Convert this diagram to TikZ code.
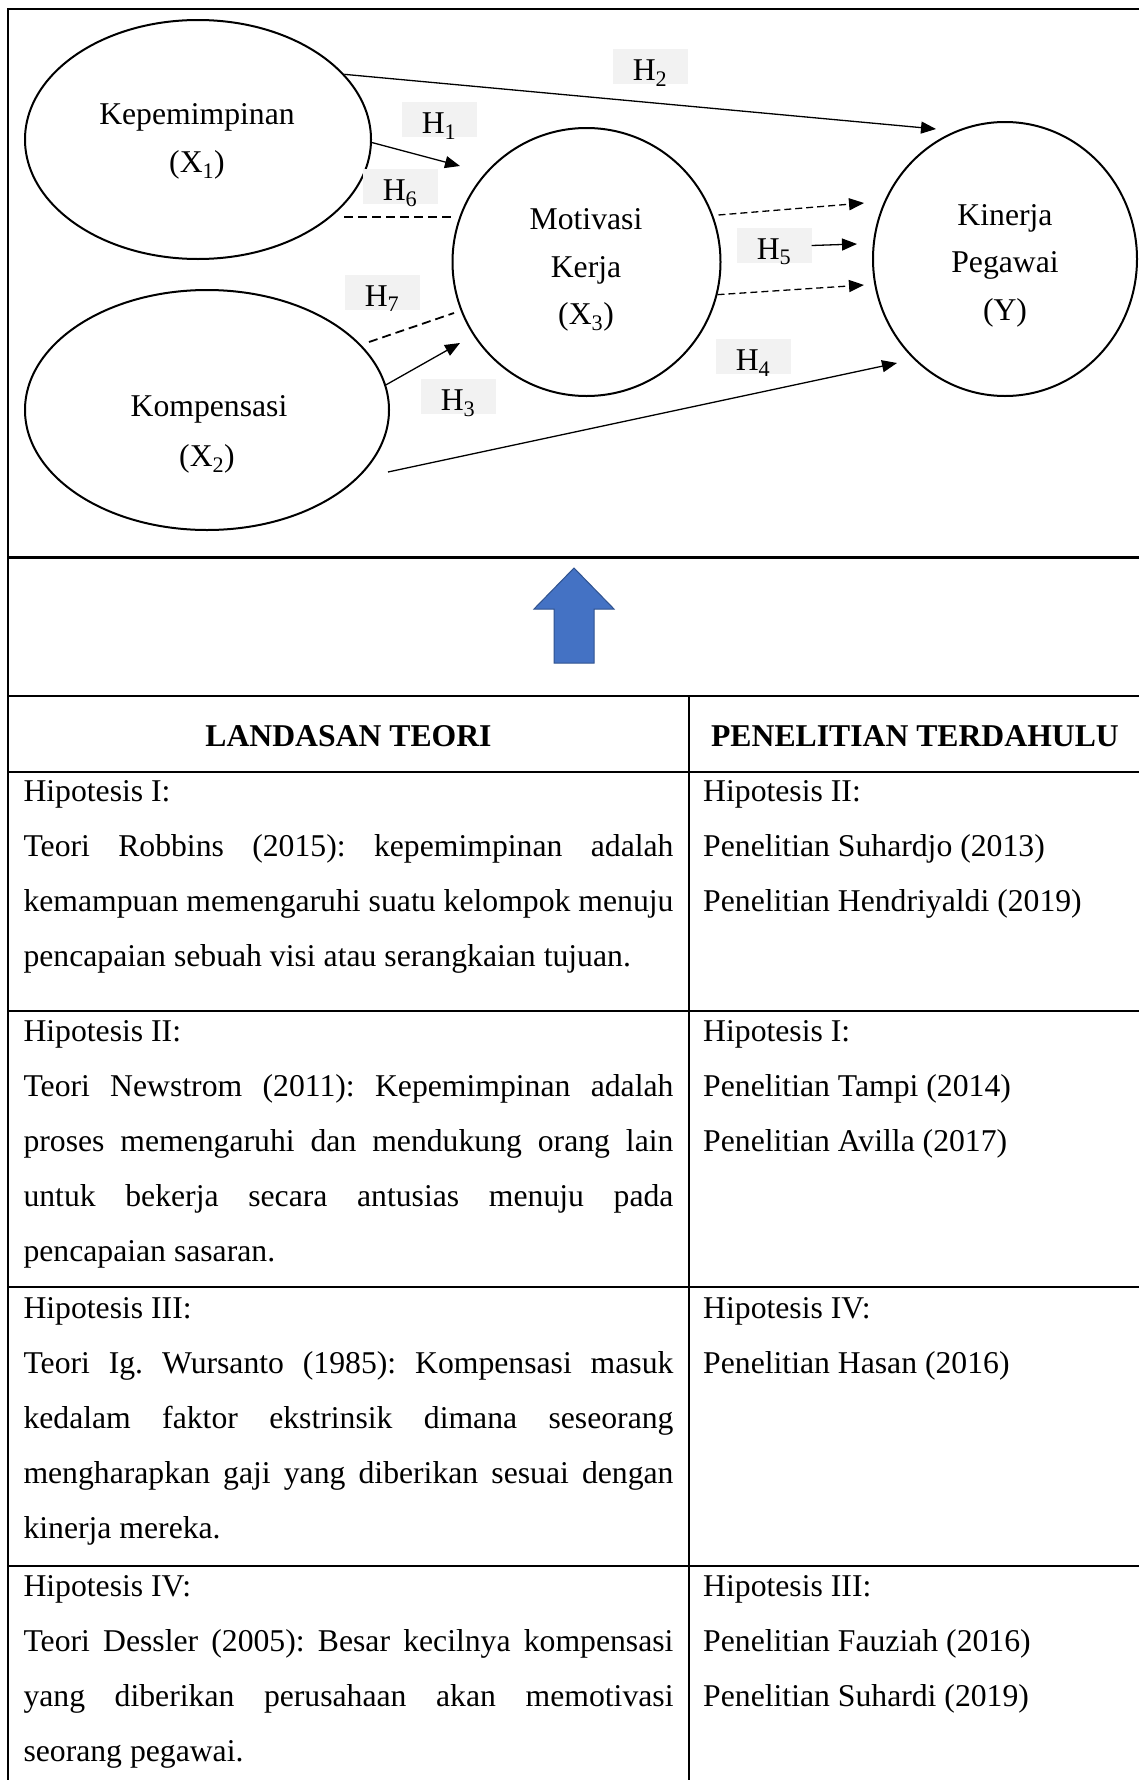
\documentclass[tikz,border=0pt]{standalone}
\usepackage{fontspec}
\setmainfont{Liberation Serif}
\usetikzlibrary{shapes.geometric,arrows.meta}
\definecolor{arrowblue}{HTML}{4472C4}
\definecolor{arrowedge}{HTML}{2F528F}
\definecolor{labelgrey}{HTML}{F2F2F2}
\newcommand{\jl}[1]{\makebox[650pt][s]{#1}}
\begin{document}
\begin{tikzpicture}[x=1pt,y=-1pt,
  base/.style={font=\fontsize{31.7}{55}\selectfont\frenchspacing, inner sep=0pt},
  dtxt/.style={base, anchor=base},
  hlabel/.style={base, anchor=base, fill=labelgrey, minimum width=75pt, text height=31pt, text depth=4pt},
  var/.style={ellipse, draw, line width=2pt, inner sep=0pt},
  cellL/.style={base, anchor=base west, text width=650pt, align=justify},
  cellR/.style={base, anchor=base west, text width=430pt, align=justify},
  frameline/.style={line width=2.6pt},
  tline/.style={line width=2pt},
  arr/.style={line width=1.3pt, -{Triangle[length=15pt,width=12pt]}},
  dline/.style={line width=1.8pt, dash pattern=on 9pt off 5pt},
  darr/.style={line width=1.3pt, dash pattern=on 7pt off 4pt, -{Triangle[length=15pt,width=12pt]}}
]
\useasboundingbox (0,0) rectangle (1138,1780);
\fill[white] (0,0) rectangle (1138,1780);

% frame of the model
\draw[frameline] (1142,9) -- (8,9) -- (8,1785);
\draw[frameline] (8,557.5) -- (1142,557.5);

% table lines
\draw[tline] (8,696) -- (1142,696);
\draw[tline] (8,772.3) -- (1142,772.3);
\draw[tline] (8,1010.7) -- (1142,1010.7);
\draw[tline] (8,1286.7) -- (1142,1286.7);
\draw[tline] (8,1565.7) -- (1142,1565.7);
\draw[tline] (689,696) -- (689,1785);

% variables
\node[var, minimum width=346pt, minimum height=239pt] (x1) at (198,139.5) {};
\node[var, minimum width=364pt, minimum height=240pt] (x2) at (207,410) {};
\node[var, minimum width=268pt, minimum height=268pt] (x3) at (586.5,262) {};
\node[var, minimum width=264pt, minimum height=274pt] (y) at (1005,259) {};

\node[dtxt] (x1a) at (197,124) {Kepemimpinan};
\node[dtxt] (x1b) at (197,172) {(X\textsubscript{1})};
\node[dtxt] (x2a) at (209,416) {Kompensasi};
\node[dtxt] (x2b) at (207,466) {(X\textsubscript{2})};
\node[dtxt] (x3a) at (586,229) {Motivasi};
\node[dtxt] (x3b) at (586,277) {Kerja};
\node[dtxt] (x3c) at (586,324) {(X\textsubscript{3})};
\node[dtxt] (ya) at (1005,225) {Kinerja};
\node[dtxt] (yb) at (1005,272) {Pegawai};
\node[dtxt] (yc) at (1005,320) {(Y)};

% hypothesis labels
\node[hlabel] (lh1) at (439,133) {H\textsubscript{1}};
\node[hlabel] (lh2) at (650,80) {H\textsubscript{2}};
\node[hlabel] (lh3) at (458,410) {H\textsubscript{3}};
\node[hlabel] (lh4) at (753,370) {H\textsubscript{4}};
\node[hlabel] (lh5) at (774,259) {H\textsubscript{5}};
\node[hlabel] (lh6) at (400,200) {H\textsubscript{6}};
\node[hlabel] (lh7) at (382,306) {H\textsubscript{7}};

% free connector ends
\coordinate (h2e) at (936,129);
\coordinate (h1e) at (460,166);
\coordinate (h6s) at (344,217);
\coordinate (h6e) at (451,217);
\coordinate (h7s) at (369,342);
\coordinate (h7e) at (454,313);
\coordinate (h3e) at (460,343);
\coordinate (h4s) at (388,472);
\coordinate (h4e) at (897,363);
\coordinate (m1s) at (718.5,215);
\coordinate (m1e) at (864,203);
\coordinate (h5e) at (857,244);
\coordinate (m2e) at (864,285);

% connectors
\draw[arr] (x1.24.3) -- (h2e);
\draw[arr] (x1.-1) -- (h1e);
\draw[dline] (h6s) -- (h6e);
\draw[dline] (h7s) -- (h7e);
\draw[arr] (x2.8.5) -- (h3e);
\draw[arr] (h4s) -- (h4e);
\draw[darr] (m1s) -- (m1e);
\draw[arr] (lh5.east) -- (h5e);
\draw[darr] (x3.-14) -- (m2e);

% blue up arrow
\filldraw[fill=arrowblue, draw=arrowedge, line width=1pt]
  (574,568) -- (614,609) -- (594,609) -- (594,663) -- (554,663) -- (554,609) -- (534,609) -- cycle;

% table headers
\node[dtxt] (hl) at (348.5,746.5) {\textbf{LANDASAN TEORI}};
\node[dtxt] (hr) at (915,746.5) {\textbf{PENELITIAN TERDAHULU}};

% left column
\node[cellL] (r1l) at (23.3,801.7) {Hipotesis I:\\
\jl{Teori Robbins (2015): kepemimpinan adalah}\\
\jl{kemampuan memengaruhi suatu kelompok menuju}\\
pencapaian sebuah visi atau serangkaian tujuan.};
\node[cellL] (r2l) at (23.3,1041.7) {Hipotesis II:\\
\jl{Teori Newstrom (2011): Kepemimpinan adalah}\\
\jl{proses memengaruhi dan mendukung orang lain}\\
\jl{untuk bekerja secara antusias menuju pada}\\
pencapaian sasaran.};
\node[cellL] (r3l) at (23.3,1318.3) {Hipotesis III:\\
\jl{Teori Ig. Wursanto (1985): Kompensasi masuk}\\
\jl{kedalam faktor ekstrinsik dimana seseorang}\\
\jl{mengharapkan gaji yang diberikan sesuai dengan}\\
kinerja mereka.};
\node[cellL] (r4l) at (23.3,1596) {Hipotesis IV:\\
\jl{Teori Dessler (2005): Besar kecilnya kompensasi}\\
\jl{yang diberikan perusahaan akan memotivasi}\\
seorang pegawai.};

% right column
\node[cellR] (r1r) at (703,801.7) {Hipotesis II:\\
Penelitian Suhardjo (2013)\\
Penelitian Hendriyaldi (2019)};
\node[cellR] (r2r) at (703,1041.7) {Hipotesis I:\\
Penelitian Tampi (2014)\\
Penelitian Avilla (2017)};
\node[cellR] (r3r) at (703,1318.3) {Hipotesis IV:\\
Penelitian Hasan (2016)};
\node[cellR] (r4r) at (703,1596) {Hipotesis III:\\
Penelitian Fauziah (2016)\\
Penelitian Suhardi (2019)};
\end{tikzpicture}
\end{document}
